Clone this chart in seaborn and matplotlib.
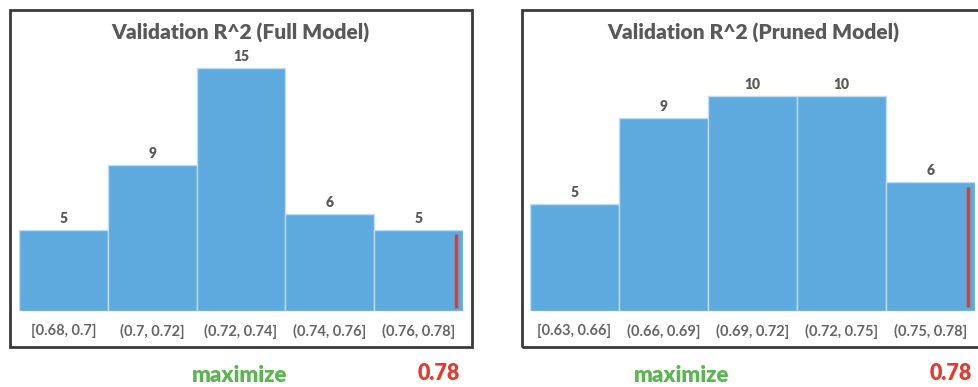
import matplotlib
matplotlib.use("Agg")
import matplotlib.pyplot as plt
from matplotlib.patches import Rectangle
import seaborn as sns
import pandas as pd

# Histogram bins and counts for both models
full_bins = ["[0.68, 0.7]", "(0.7, 0.72]", "(0.72, 0.74]", "(0.74, 0.76]", "(0.76, 0.78]"]
full_counts = [5, 9, 15, 6, 5]
pruned_bins = ["[0.63, 0.66]", "(0.66, 0.69]", "(0.69, 0.72]", "(0.72, 0.75]", "(0.75, 0.78]"]
pruned_counts = [5, 9, 10, 10, 6]
titles = ["Validation R^2 (Full Model)", "Validation R^2 (Pruned Model)"]
goal_text = "maximize"
best_value = 0.78
marker_pos = 4.42  # position of the best value marker within the last bin (bin-index units)

sns.set_theme(style="white")
plt.rcParams["font.family"] = ["Lato", "DejaVu Sans"]

W, H = 979, 387
fig = plt.figure(figsize=(W / 100, H / 100), dpi=100)

BAR = "#5EA9DD"
GRAY = "#595959"
TICKGRAY = "#666666"
GREEN = "#5BB551"
RED = "#E53A2F"


def fx(px):
    return px / W


def fy(py):
    return 1 - py / H


panels = [
    dict(bins=full_bins, counts=full_counts, title=titles[0],
         box=(10, 10, 472, 347), bars=(19, 463), ymax=16.1,
         title_x=240, goal_x=240, val_x=439),
    dict(bins=pruned_bins, counts=pruned_counts, title=titles[1],
         box=(522, 10, 995, 347), bars=(530, 975), ymax=12.14,
         title_x=753, goal_x=682, val_x=951),
]

for p in panels:
    x0, x1 = p["bars"]
    ax = fig.add_axes([fx(x0), fy(311), fx(x1 - x0), 261 / H])
    df = pd.DataFrame({"bin": p["bins"], "count": p["counts"]})
    sns.barplot(data=df, x="bin", y="count", width=1.0, color=BAR,
                saturation=1, edgecolor="#BFDDF2", linewidth=1.0, ax=ax)
    ax.set_xlim(-0.5, len(p["bins"]) - 0.5)
    ax.set_ylim(0, p["ymax"])
    for i, c in enumerate(p["counts"]):
        ax.annotate(str(c), (i, c), xytext=(0, 3.5), textcoords="offset points",
                    ha="center", va="bottom", fontsize=10, fontweight="heavy",
                    color=GRAY)
    last = p["counts"][-1]
    ax.vlines(marker_pos, 0.2, last - 0.25, color=RED, linewidth=2.5)
    ax.set_xlabel("")
    ax.set_ylabel("")
    ax.set_yticks([])
    ax.tick_params(axis="x", length=0, pad=9, labelsize=10.5, labelcolor=TICKGRAY)
    for lab in ax.get_xticklabels():
        lab.set_fontweight("bold")
    for s in ax.spines.values():
        s.set_visible(False)

    bx0, by0, bx1, by1 = p["box"]
    fig.add_artist(Rectangle((fx(bx0), fy(by1)), fx(bx1 - bx0), (by1 - by0) / H,
                             transform=fig.transFigure, fill=False,
                             edgecolor="#3A3A3A", linewidth=2.0))
    fig.text(fx(p["title_x"]), fy(33), p["title"], ha="center", va="center",
             fontsize=15, fontweight="heavy", color=GRAY)
    fig.text(fx(p["goal_x"]), fy(376), goal_text, ha="center", va="center",
             fontsize=16, fontweight="heavy", color=GREEN)
    fig.text(fx(p["val_x"]), fy(374), f"{best_value:.2f}", ha="center",
             va="center", fontsize=15.5, fontweight="heavy", color=RED)

fig.savefig("out.png", dpi=100)
